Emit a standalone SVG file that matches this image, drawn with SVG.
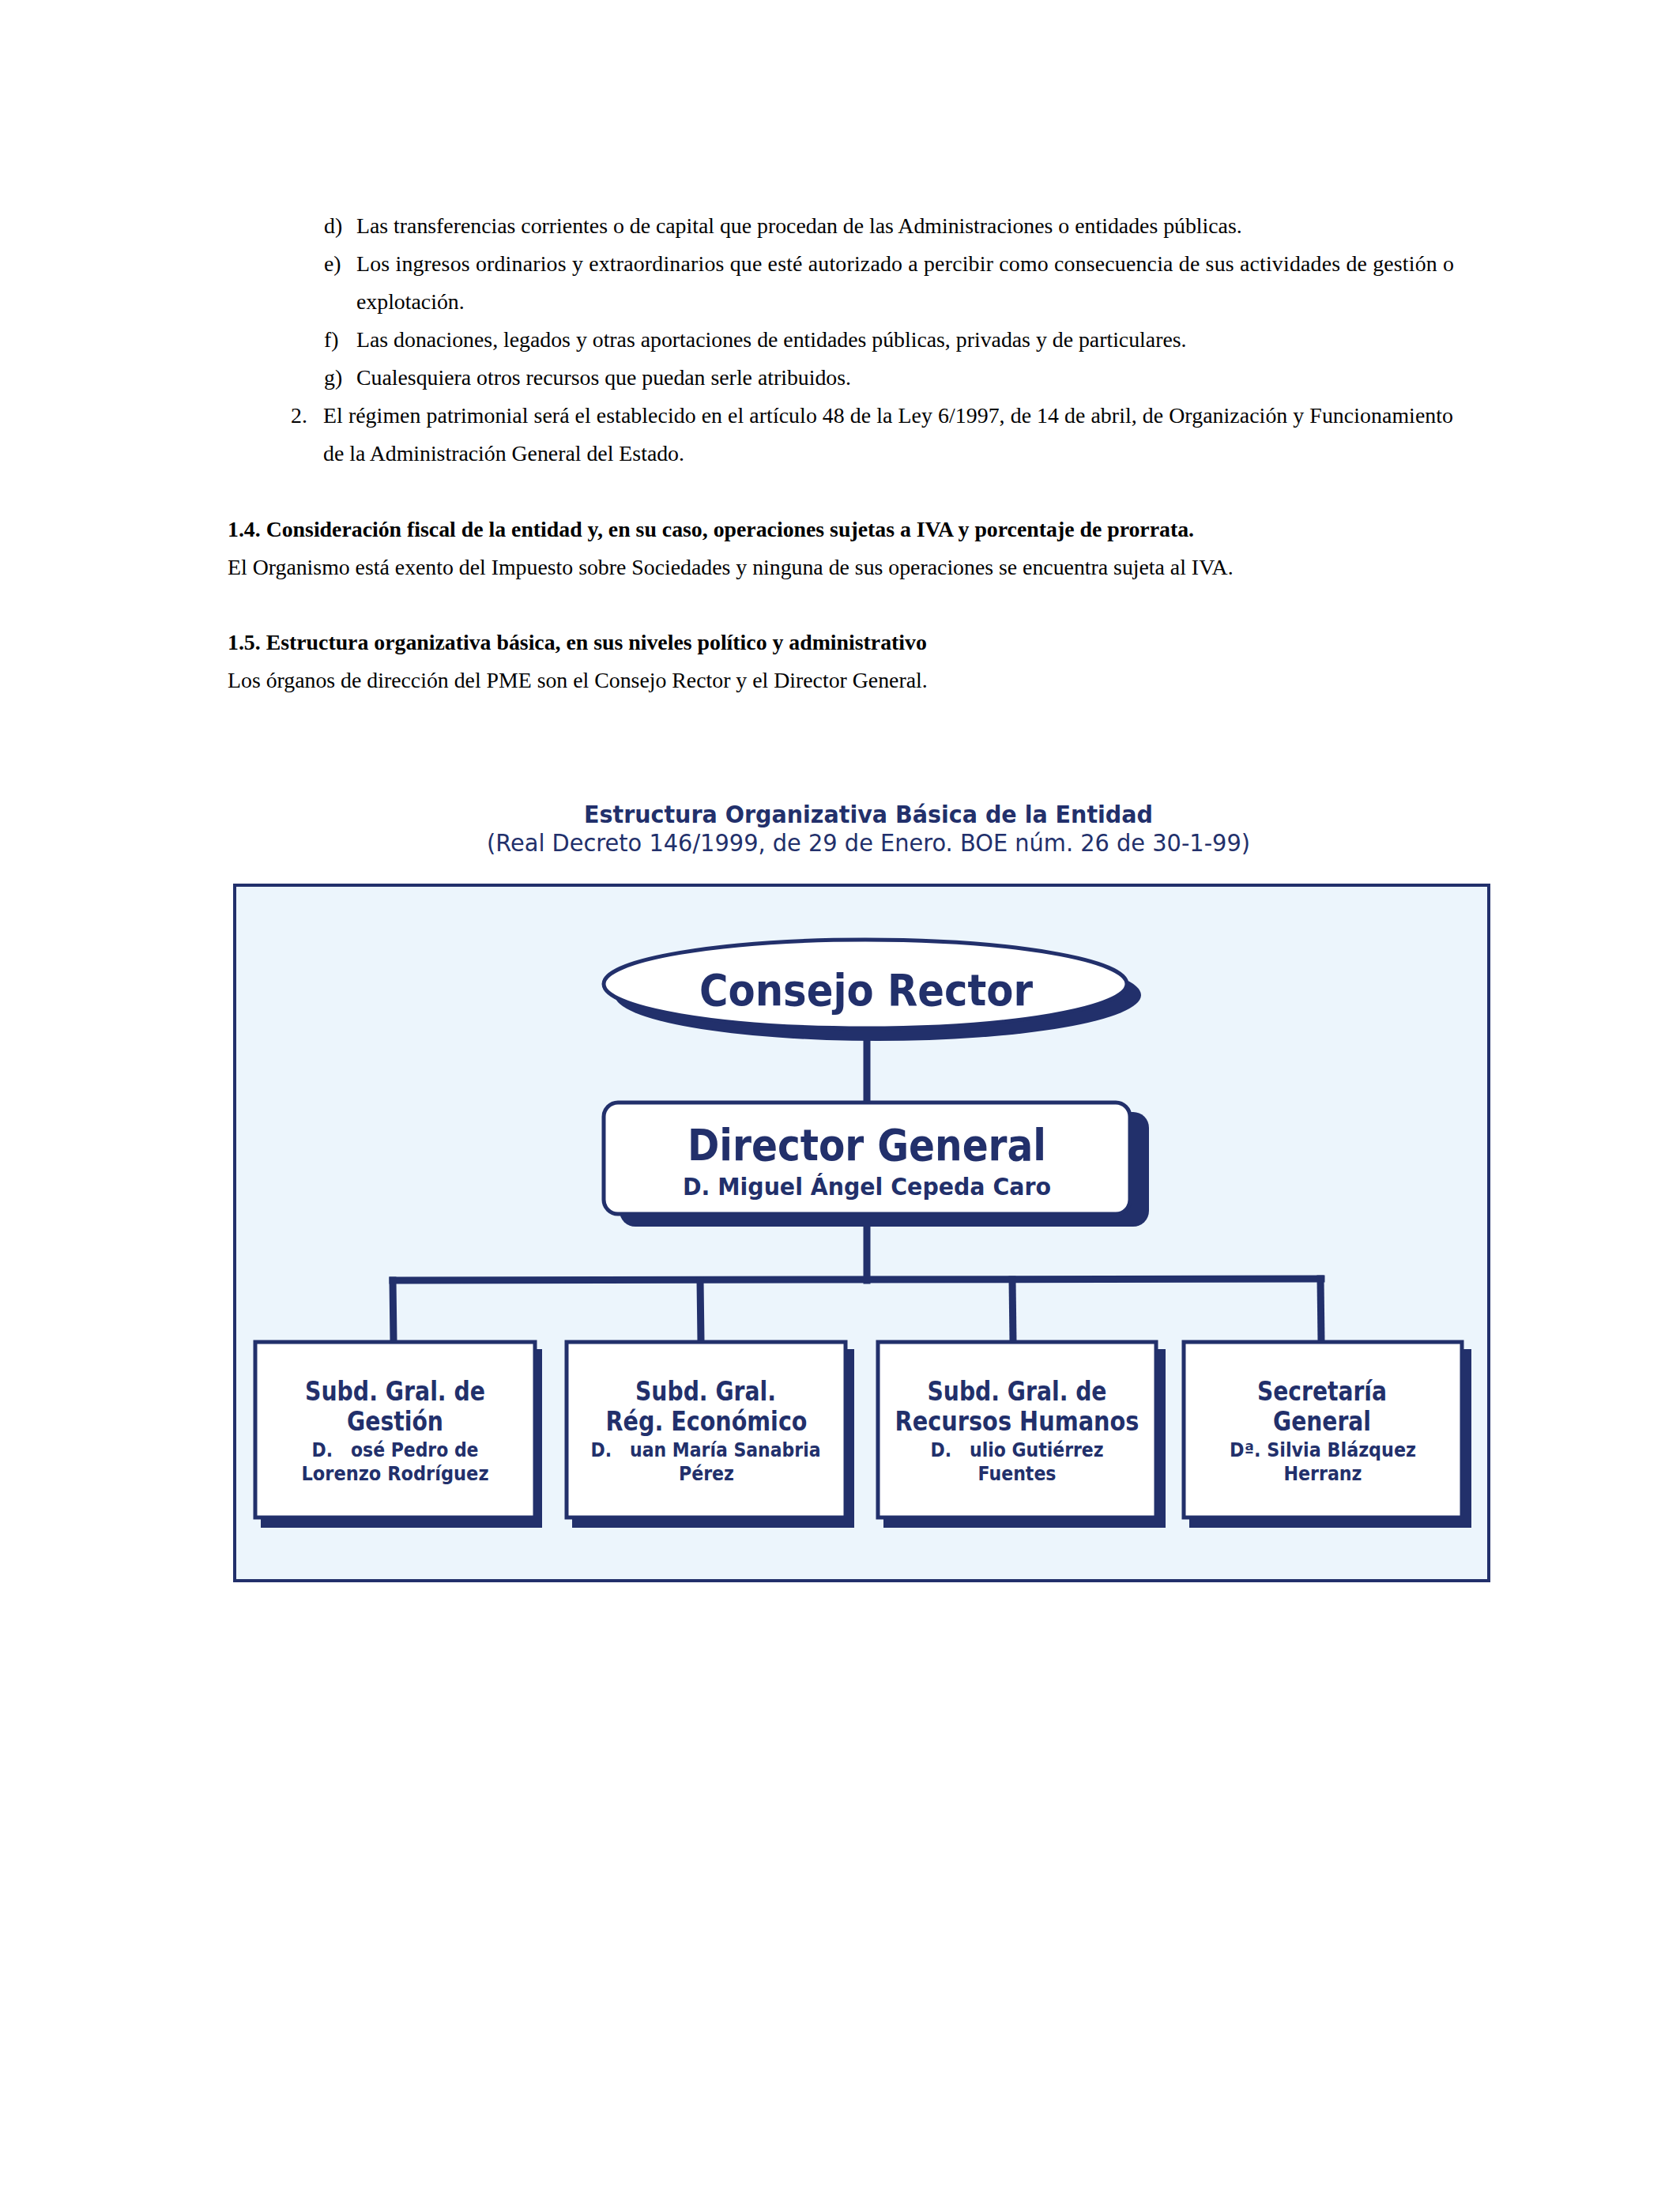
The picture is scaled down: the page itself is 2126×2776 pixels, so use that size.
<svg xmlns="http://www.w3.org/2000/svg" width="2126" height="2776" viewBox="0 0 2126 2776">
<style>
.body{font-family:"Liberation Serif","Times New Roman",serif;font-size:27.8px;fill:#000}
.bold{font-weight:bold}
.ch{font-family:"DejaVu Sans","Verdana",sans-serif;fill:#22306B;font-weight:bold;text-anchor:middle}
.chr{font-family:"DejaVu Sans","Verdana",sans-serif;fill:#22306B;font-weight:normal;text-anchor:middle}
.shadow{fill:#22306B}
.node{fill:#FFFFFF;stroke:#22306B;stroke-width:5}
.conn{stroke:#22306B;stroke-width:9;fill:none;stroke-linecap:square}
.bt{font-size:33px}
.bn{font-size:24px}
</style>
<rect x="0" y="0" width="2126" height="2776" fill="#FFFFFF"/>
<g id="body-text">
<text class="body" x="410" y="295">d)</text>
<text class="body" x="451" y="295">Las transferencias corrientes o de capital que procedan de las Administraciones o entidades públicas.</text>
<text class="body" x="410" y="343">e)</text>
<text class="body" x="451" y="343" textLength="1389" lengthAdjust="spacing">Los ingresos ordinarios y extraordinarios que esté autorizado a percibir como consecuencia de sus actividades de gestión o</text>
<text class="body" x="451" y="391">explotación.</text>
<text class="body" x="410" y="439">f)</text>
<text class="body" x="451" y="439">Las donaciones, legados y otras aportaciones de entidades públicas, privadas y de particulares.</text>
<text class="body" x="410" y="487">g)</text>
<text class="body" x="451" y="487">Cualesquiera otros recursos que puedan serle atribuidos.</text>
<text class="body" x="368" y="535">2.</text>
<text class="body" x="409" y="535" textLength="1430" lengthAdjust="spacing">El régimen patrimonial será el establecido en el artículo 48 de la Ley 6/1997, de 14 de abril, de Organización y Funcionamiento</text>
<text class="body" x="409" y="583">de la Administración General del Estado.</text>
<text class="body bold" x="288" y="679">1.4. Consideración fiscal de la entidad y, en su caso, operaciones sujetas a IVA y porcentaje de prorrata.</text>
<text class="body" x="288" y="727">El Organismo está exento del Impuesto sobre Sociedades y ninguna de sus operaciones se encuentra sujeta al IVA.</text>
<text class="body bold" x="288" y="822">1.5. Estructura organizativa básica, en sus niveles político y administrativo</text>
<text class="body" x="288" y="870">Los órganos de dirección del PME son el Consejo Rector y el Director General.</text>
</g>
<g id="chart-title">
<text class="ch" x="1099" y="1041" font-size="31" textLength="720" lengthAdjust="spacingAndGlyphs">Estructura Organizativa Básica de la Entidad</text>
<text class="chr" x="1099" y="1077" font-size="31" textLength="966" lengthAdjust="spacingAndGlyphs">(Real Decreto 146/1999, de 29 de Enero. BOE núm. 26 de 30-1-99)</text>
</g>
<g id="frame">
<rect x="297" y="1120" width="1587" height="880" fill="#ECF5FC" stroke="#22306B" stroke-width="4"/>
</g>
<g id="connectors">
<line class="conn" x1="1097" y1="1310" x2="1097" y2="1393"/>
<line class="conn" x1="1097" y1="1550" x2="1097" y2="1620"/>
<line class="conn" x1="497" y1="1620" x2="1672" y2="1618"/>
<line class="conn" x1="497" y1="1620" x2="498" y2="1696"/>
<line class="conn" x1="886" y1="1620" x2="887" y2="1696"/>
<line class="conn" x1="1281" y1="1619" x2="1282" y2="1696"/>
<line class="conn" x1="1671" y1="1618" x2="1672" y2="1696"/>
</g>
<g id="node-consejo-rector">
<ellipse class="shadow" cx="1111" cy="1259" rx="333" ry="58"/>
<ellipse class="node" cx="1095" cy="1245" rx="331" ry="56"/>
<text class="ch" x="1096" y="1272" font-size="55" textLength="422" lengthAdjust="spacingAndGlyphs">Consejo Rector</text>
</g>
<g id="node-director-general">
<rect class="shadow" x="784" y="1407" width="670" height="145" rx="20"/>
<rect class="node" x="764" y="1395" width="666" height="141" rx="18"/>
<text class="ch" x="1097" y="1468" font-size="56" textLength="454" lengthAdjust="spacingAndGlyphs">Director General</text>
<text class="ch" x="1097" y="1512" font-size="30" textLength="466" lengthAdjust="spacingAndGlyphs">D. Miguel Ángel Cepeda Caro</text>
</g>
<g id="node-subd-gestion">
<rect class="shadow" x="330" y="1707" width="356" height="226"/>
<rect class="node" x="323" y="1698" width="354" height="222"/>
<text class="ch bt" x="500" y="1772" textLength="228" lengthAdjust="spacingAndGlyphs">Subd. Gral. de</text>
<text class="ch bt" x="500" y="1810" textLength="122" lengthAdjust="spacingAndGlyphs">Gestión</text>
<text class="ch bn" x="500" y="1843" textLength="211" lengthAdjust="spacingAndGlyphs">D.&#160;&#160;&#160;osé Pedro de</text>
<text class="ch bn" x="500" y="1873" textLength="237" lengthAdjust="spacingAndGlyphs">Lorenzo Rodríguez</text>
</g>
<g id="node-subd-economico">
<rect class="shadow" x="724" y="1707" width="357" height="226"/>
<rect class="node" x="717" y="1698" width="353" height="222"/>
<text class="ch bt" x="893" y="1772" textLength="178" lengthAdjust="spacingAndGlyphs">Subd. Gral.</text>
<text class="ch bt" x="894" y="1810" textLength="255" lengthAdjust="spacingAndGlyphs">Rég. Económico</text>
<text class="ch bn" x="893" y="1843" textLength="291" lengthAdjust="spacingAndGlyphs">D.&#160;&#160;&#160;uan María Sanabria</text>
<text class="ch bn" x="894" y="1873" textLength="70" lengthAdjust="spacingAndGlyphs">Pérez</text>
</g>
<g id="node-subd-rrhh">
<rect class="shadow" x="1118" y="1707" width="357" height="226"/>
<rect class="node" x="1111" y="1698" width="352" height="222"/>
<text class="ch bt" x="1287" y="1772" textLength="227" lengthAdjust="spacingAndGlyphs">Subd. Gral. de</text>
<text class="ch bt" x="1287" y="1810" textLength="309" lengthAdjust="spacingAndGlyphs">Recursos Humanos</text>
<text class="ch bn" x="1287" y="1843" textLength="219" lengthAdjust="spacingAndGlyphs">D.&#160;&#160;&#160;ulio Gutiérrez</text>
<text class="ch bn" x="1287" y="1873" textLength="99" lengthAdjust="spacingAndGlyphs">Fuentes</text>
</g>
<g id="node-secretaria">
<rect class="shadow" x="1505" y="1707" width="357" height="226"/>
<rect class="node" x="1498" y="1698" width="352" height="222"/>
<text class="ch bt" x="1673" y="1772" textLength="164" lengthAdjust="spacingAndGlyphs">Secretaría</text>
<text class="ch bt" x="1673" y="1810" textLength="124" lengthAdjust="spacingAndGlyphs">General</text>
<text class="ch bn" x="1674" y="1843" textLength="236" lengthAdjust="spacingAndGlyphs">Dª. Silvia Blázquez</text>
<text class="ch bn" x="1674" y="1873" textLength="99" lengthAdjust="spacingAndGlyphs">Herranz</text>
</g>
</svg>
